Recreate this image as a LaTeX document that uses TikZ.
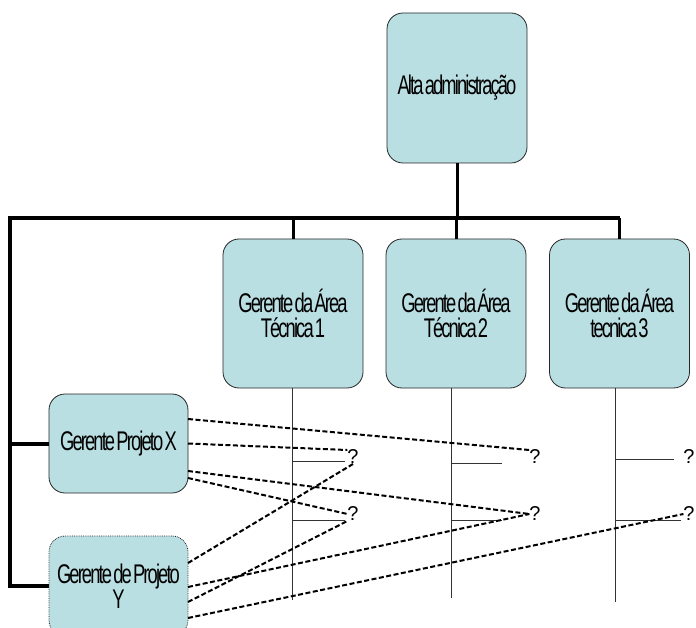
\documentclass[tikz,border=0pt]{standalone}
\usepackage{fontspec}
\setmainfont{Liberation Sans}
\newfontfamily\boxfont[FakeStretch=0.68,LetterSpace=-7,WordSpace=0.4]{Liberation Sans}
\usetikzlibrary{calc}
\definecolor{caixa}{RGB}{186,223,227}
\tikzset{
	cargo/.style={draw=black!85, line width=0.8pt, fill=caixa, rounded corners=16pt, inner sep=0pt, outer sep=0pt, align=center, font=\boxfont\fontsize{27}{25}\selectfont},
	area/.style={minimum width=140pt, minimum height=149pt},
	projeto/.style={minimum width=139pt, minimum height=99pt},
	pergunta/.style={inner sep=0pt, outer sep=0pt, font=\fontsize{20}{20}\selectfont},
	barra/.style={line width=4.5pt},
	tronco/.style={line width=4pt},
	haste/.style={line width=3pt},
	fio/.style={line width=0.8pt, color=black!80},
	tracejado/.style={line width=2pt, dash pattern=on 5pt off 2.5pt}
}

\begin{document}
\begin{tikzpicture}[x=1pt, y=-1pt]
			%%%%% START %%%%%
			\useasboundingbox (0,0) rectangle (696,628);
			\clip (0,0) rectangle (696,628);
			
			\node[cargo, minimum width=140pt, minimum height=150pt] (alta) at (457,88) {Alta administração};
			
			\node[cargo, area] (t1) at (293,313.5) {Gerente da Área\\Técnica 1};
			\node[cargo, area] (t2) at (456,313.5) {Gerente da Área\\Técnica 2};
			\node[cargo, area] (t3) at (619.5,313.5) {Gerente da Área\\tecnica 3};
			
			\node[cargo, projeto] (px) at (118.5,443.5) {Gerente Projeto X};
			\node[cargo, projeto, densely dotted, minimum height=100pt] (py) at (118.5,586) {Gerente de Projeto\\Y};
			
			\node[pergunta] (q11) at (353,457) {?};
			\node[pergunta] (q12) at (353,514) {?};
			\node[pergunta] (q21) at (535,457) {?};
			\node[pergunta] (q22) at (535,514) {?};
			\node[pergunta] (q31) at (689,457) {?};
			\node[pergunta] (q32) at (689,514) {?};
			
			% barra principal
			\coordinate (barL) at (10,218);
			\coordinate (barR) at (620,218);
			\draw[barra] ([xshift=-2pt]barL) -- (barR);
			\draw[haste] (alta.south) -- (alta.south |- barL);
			\draw[haste] (t1.north) -- (t1.north |- barL);
			\draw[haste] (t2.north) -- (t2.north |- barL);
			\draw[haste] (t3.north) -- (t3.north |- barL);
			
			\draw[tronco] (py.west) -| ([yshift=2.2pt]barL);
			\draw[tronco] (px.west) -- (px.west -| barL);
			
			% colunas das areas
			\coordinate (v1) at (292,600);
			\coordinate (v2) at (451,598);
			\coordinate (v3) at (615,602);
			\draw[fio] (t1.south -| v1) -- (v1);
			\draw[fio] (t2.south -| v2) -- (v2);
			\draw[fio] (t3.south -| v3) -- (v3);
			
			\draw[fio] ($(v1 |- q11)+(0,4)$) -- ++(53,0);
			\draw[fio] ($(v1 |- q12)+(0,6)$) -- ++(53,0);
			\draw[fio] ($(v2 |- q21)+(0,6)$) -- ++(51,0);
			\draw[fio] ($(v2 |- q22)+(0,6)$) -- ++(51,0);
			\draw[fio] ($(v3 |- q31)+(0,2)$) -- ++(59,0);
			\draw[fio] ($(v3 |- q32)+(0,6)$) -- ++(66,0);
			
			% ligacoes dos projetos
			\draw[tracejado] ([yshift=24.5pt]px.east) -- (q21.north west);
			\draw[tracejado] (px.east) -- (q11.north west);
			\draw[tracejado] ([yshift=-27.5pt]px.east) -- (q22.west);
			\draw[tracejado] ([yshift=-34.5pt]px.east) -- (q12.west);
			
			\draw[tracejado] ([yshift=23pt]py.east) -- (q11.south);
			\draw[tracejado] ([yshift=-1pt]py.east) -- (q22.west);
			\draw[tracejado] ([yshift=-16pt]py.east) -- (q12.south west);
			\draw[tracejado] ([yshift=-32pt]py.east) -- (q32.west);
			
			%%%%% END %%%%%
\end{tikzpicture}
\end{document}
